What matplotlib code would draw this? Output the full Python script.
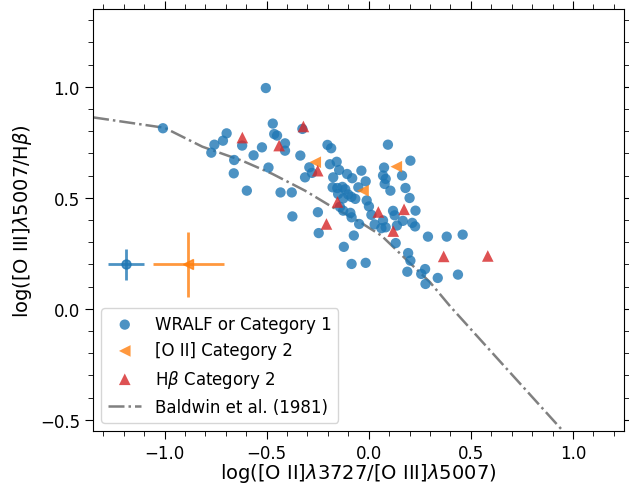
import numpy as np
import matplotlib
matplotlib.use("Agg")
import matplotlib.pyplot as plt
from matplotlib.ticker import MultipleLocator

# WRALF / Category 1 (blue circles)
cat1_x = [-0.504, -1.008, -0.470, -0.463, -0.449, -0.696, -0.714, -0.756, -0.771, -0.620,
          -0.523, -0.564, -0.659, -0.491, -0.661, -0.597, -0.410, -0.410, -0.325, -0.335,
          -0.432, -0.377, -0.374, -0.249, -0.245, -0.202, -0.184, -0.190, -0.157, -0.145,
          -0.174, -0.291, -0.278, -0.312, -0.106, -0.081, -0.177, -0.154, -0.129, -0.115,
          -0.036, -0.015, -0.051, -0.101, -0.085, -0.125, -0.066, -0.141, -0.125, -0.090,
          -0.084, -0.010, 0.001, -0.047, -0.073, -0.122, -0.084, -0.015, 0.094, 0.204,
          0.075, 0.070, 0.083, 0.078, 0.163, 0.106, 0.180, 0.200, 0.119, 0.127,
          0.229, 0.013, 0.029, 0.070, 0.062, 0.083, 0.167, 0.138, 0.213, 0.227,
          0.132, 0.290, 0.382, 0.460, 0.193, 0.204, 0.189, 0.257, 0.276, 0.278,
          0.338, 0.437, -0.150]
cat1_y = [0.994, 0.813, 0.834, 0.787, 0.780, 0.790, 0.757, 0.739, 0.703, 0.735,
          0.727, 0.691, 0.670, 0.636, 0.610, 0.532, 0.745, 0.712, 0.810, 0.690,
          0.524, 0.524, 0.416, 0.435, 0.341, 0.738, 0.723, 0.651, 0.662, 0.625,
          0.592, 0.637, 0.612, 0.592, 0.607, 0.588, 0.547, 0.544, 0.549, 0.538,
          0.622, 0.574, 0.547, 0.515, 0.504, 0.497, 0.495, 0.459, 0.442, 0.432,
          0.412, 0.488, 0.461, 0.382, 0.330, 0.279, 0.202, 0.207, 0.739, 0.667,
          0.636, 0.600, 0.585, 0.562, 0.600, 0.532, 0.544, 0.499, 0.441, 0.421,
          0.442, 0.423, 0.380, 0.398, 0.363, 0.367, 0.396, 0.375, 0.387, 0.371,
          0.296, 0.325, 0.325, 0.334, 0.251, 0.217, 0.167, 0.157, 0.179, 0.112,
          0.139, 0.154, 0.517]

# [O II] Category 2 (orange left triangles)
oii_x = [-0.262, -0.028, 0.135]
oii_y = [0.660, 0.532, 0.640]

# Hbeta Category 2 (red triangles)
hb_x = [-0.619, -0.439, -0.320, -0.250, -0.207, -0.153, 0.047, 0.173, 0.120, 0.367, 0.583]
hb_y = [0.771, 0.735, 0.821, 0.622, 0.382, 0.481, 0.436, 0.448, 0.350, 0.236, 0.238]

# Baldwin et al. (1981) curve
bpt_x = [-1.35, -1.0, -0.815, -0.620, -0.473, -0.312, -0.180, -0.068, 0.063, 0.195,
         0.300, 0.400, 0.961, 1.0]
bpt_y = [0.862, 0.815, 0.730, 0.667, 0.608, 0.532, 0.459, 0.405, 0.329, 0.212,
         0.120, 0.010, -0.56, -0.60]

# typical error bars
err1 = dict(x=-1.19, y=0.20, xerr=0.088, yerr=0.068)
err2 = dict(x=-0.884, y=0.20, xerr=0.174, yerr=0.146)

fig = plt.figure(figsize=(6.29, 4.89), dpi=100)
ax = fig.add_axes([0.148, 0.1166, 0.844, 0.863])

ax.scatter(cat1_x, cat1_y, s=55, color='tab:blue', alpha=0.8, edgecolors='none',
           label='WRALF or Category 1', zorder=3)
ax.scatter(oii_x, oii_y, s=70, marker='<', color='tab:orange', alpha=0.8, edgecolors='none',
           label='[O II] Category 2', zorder=3)
ax.scatter(hb_x, hb_y, s=70, marker='^', color='tab:red', alpha=0.8, edgecolors='none',
           label=r'H$\beta$ Category 2', zorder=3)
ax.plot(bpt_x, bpt_y, '-.', color='gray', lw=1.8, label='Baldwin et al. (1981)', zorder=2)

ax.errorbar(err1['x'], err1['y'], xerr=err1['xerr'], yerr=err1['yerr'], fmt='o', ms=6.5,
            color='tab:blue', alpha=0.8, elinewidth=2, capsize=0)
ax.errorbar(err2['x'], err2['y'], xerr=err2['xerr'], yerr=err2['yerr'], fmt='<', ms=6.5,
            color='tab:orange', alpha=0.8, elinewidth=2, capsize=0)

ax.set_xlim(-1.35, 1.25)
ax.set_ylim(-0.55, 1.35)
ax.xaxis.set_major_locator(MultipleLocator(0.5))
ax.xaxis.set_minor_locator(MultipleLocator(0.1))
ax.yaxis.set_major_locator(MultipleLocator(0.5))
ax.yaxis.set_minor_locator(MultipleLocator(0.1))
ax.tick_params(which='both', direction='out', top=True, right=True, labelsize=12)
ax.tick_params(which='major', length=6)
ax.tick_params(which='minor', length=3.5)

ax.set_xlabel(r'log([O II]$\lambda$3727/[O III]$\lambda$5007)', fontsize=14, labelpad=-1)
ax.set_ylabel(r'log([O III]$\lambda$5007/H$\beta$)', fontsize=14, labelpad=4)

ax.legend(loc='lower left', fontsize=12)

fig.savefig('out.png', dpi=100)
